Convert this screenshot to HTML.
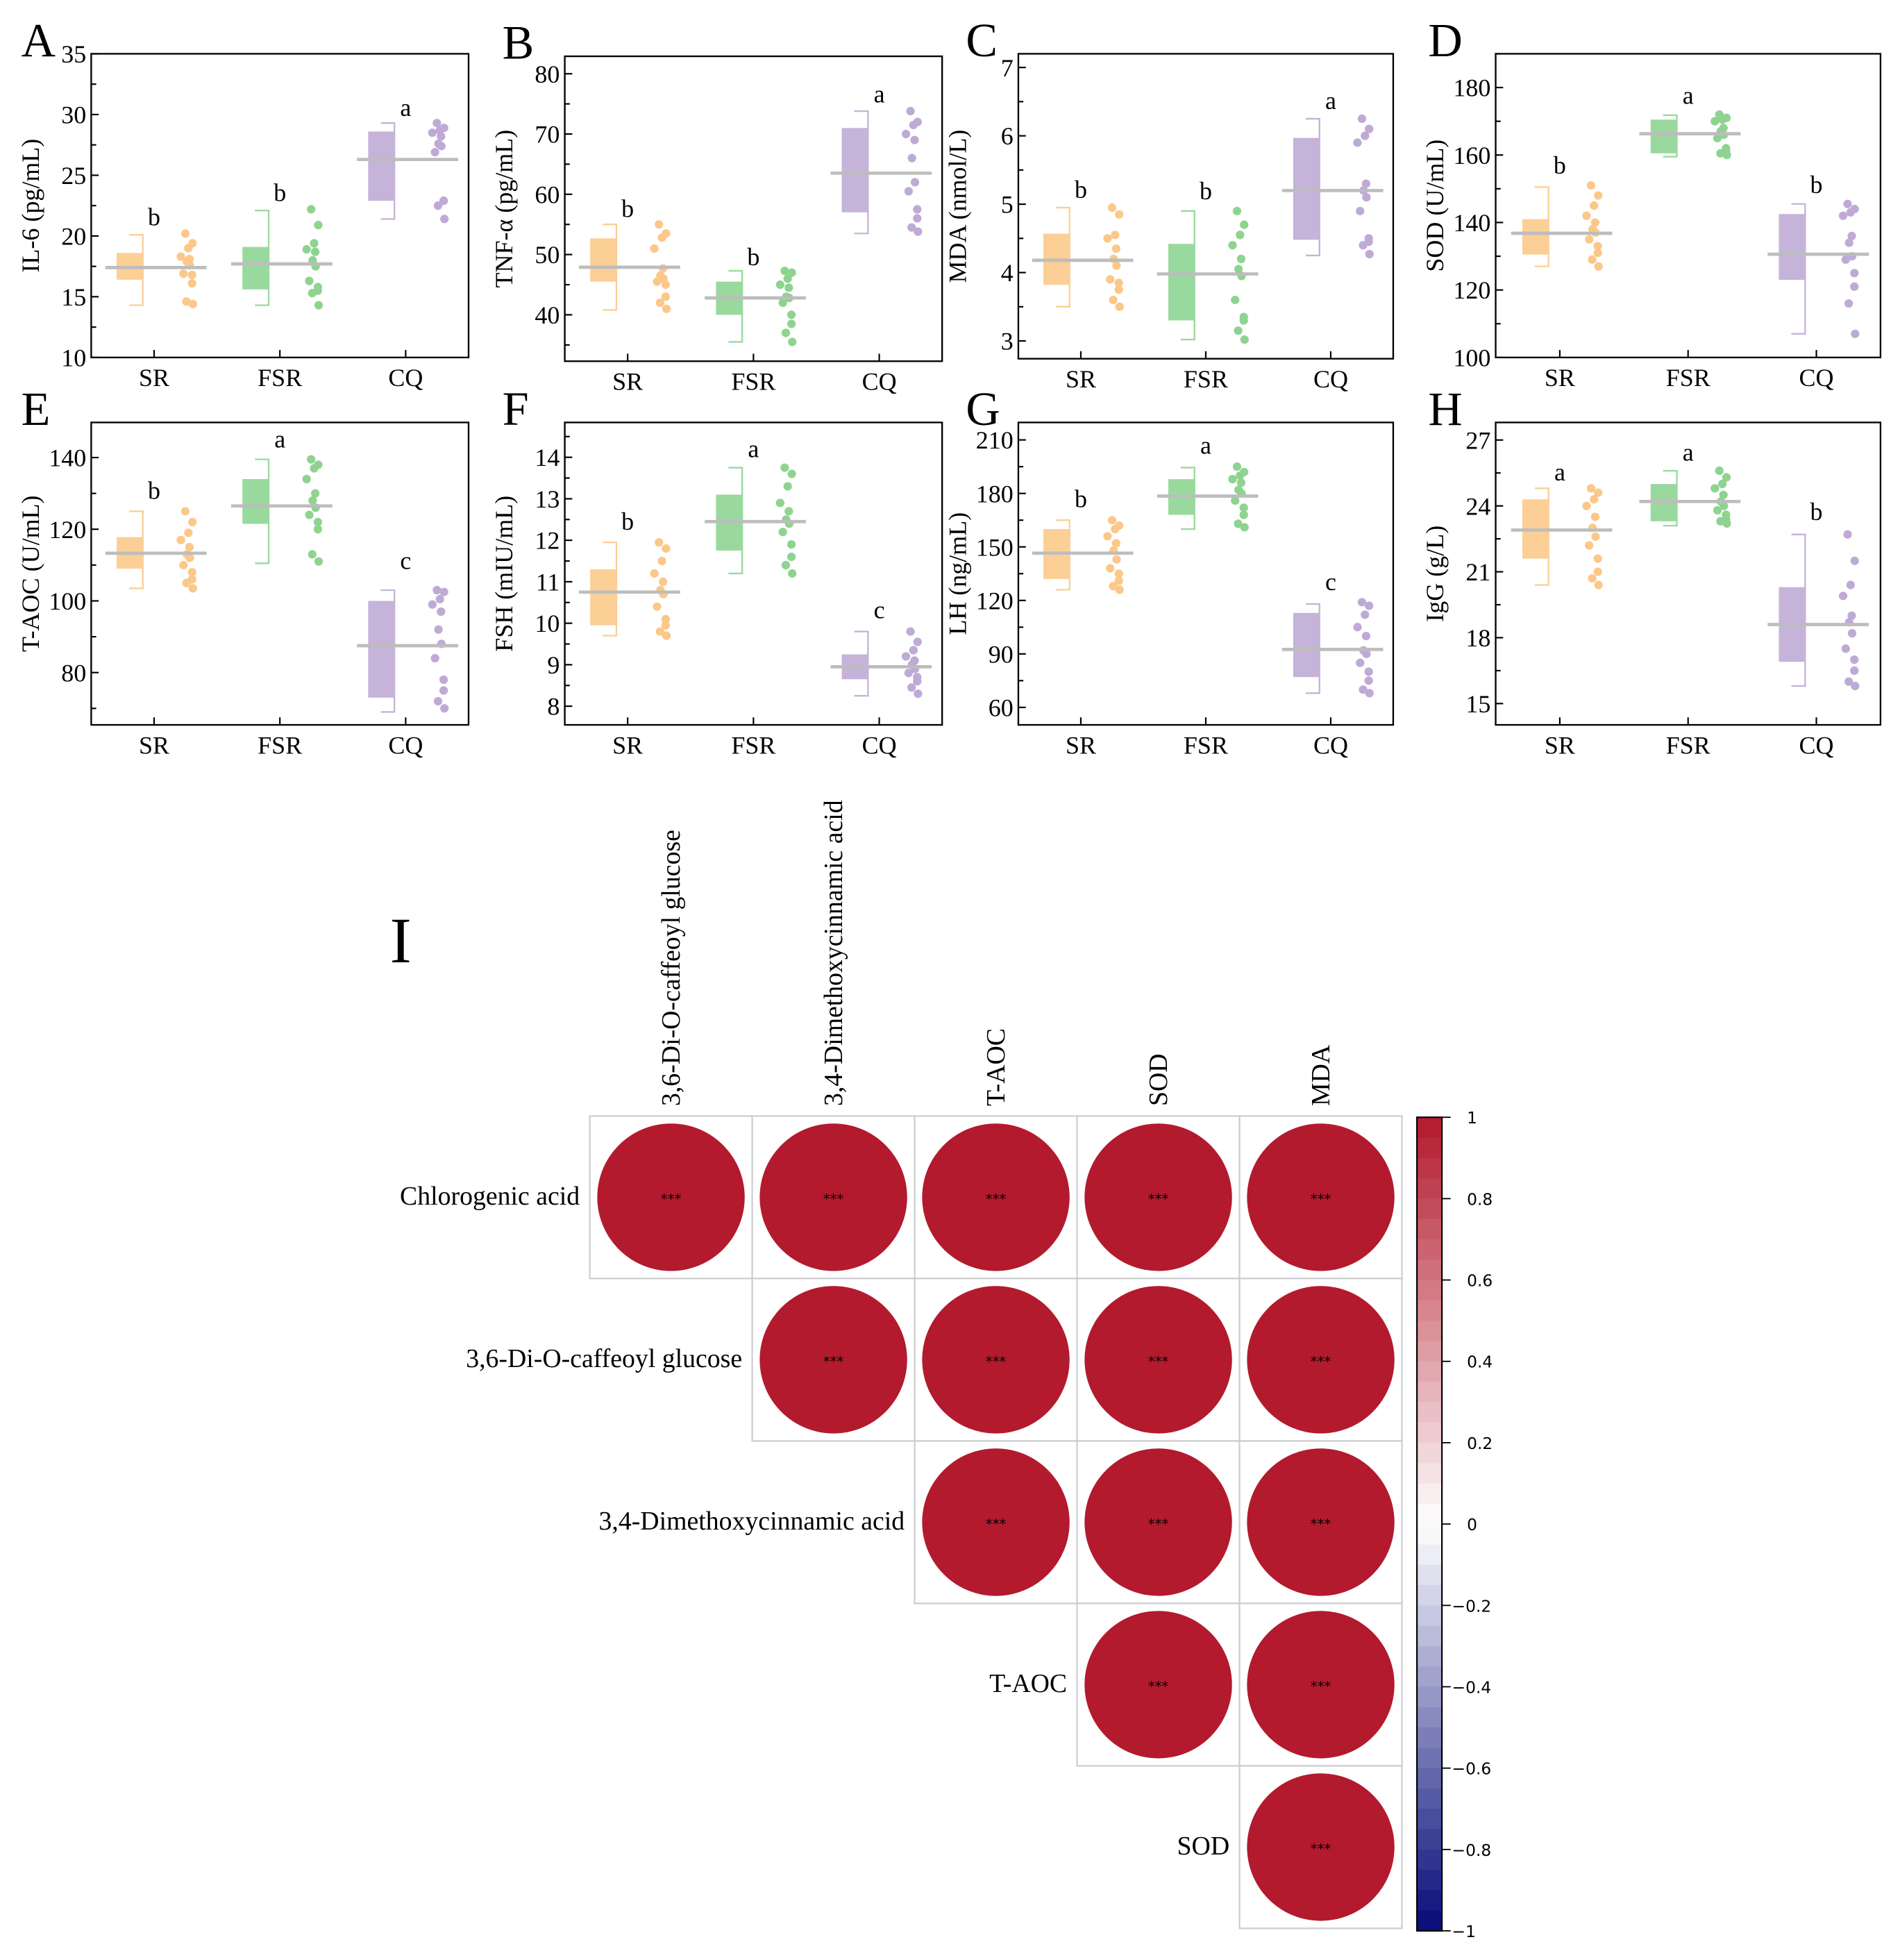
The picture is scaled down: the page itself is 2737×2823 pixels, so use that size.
<!DOCTYPE html>
<html><head><meta charset="utf-8"><style>
html,body{margin:0;padding:0;background:#fff;}
svg{display:block;}
text{font-family:"Liberation Serif",serif;fill:#000;}
.cb{font-family:"DejaVu Sans","Liberation Sans",sans-serif;}
</style></head>
<body>
<svg id="fig" xmlns="http://www.w3.org/2000/svg" width="2737" height="2823" viewBox="0 0 1520.6 1568.3">
<rect width="1520.6" height="1568.3" fill="#fff"/>
<g id="panels"></g>
<g id="corr"></g>
</svg>
<script>
const groups = ['SR','FSR','CQ'];
// Panel A IL-6
const il6Mean = [17.4, 17.7, 26.3];
const il6Box = [[16.4,18.6],[15.6,19.1],[22.9,28.6]];
const il6Whisk = [[14.3,20.1],[14.3,22.1],[21.4,29.3]];
const il6Dots = [[20.2,19.4,19.0,18.3,18.1,17.9,17.6,16.9,16.8,16.1,14.6,14.4],[22.2,20.9,19.4,18.9,18.7,18.0,17.5,16.3,15.8,15.5,15.3,14.3],[29.3,28.9,28.7,28.5,28.2,27.6,27.4,26.9,22.9,22.9,22.5,21.4]];
const il6Letters = ['b','b','a'];
const il6LetterY = [21.5, 23.5, 30.5];
const il6Ticks = [10,15,20,25,30,35];
// Panel B TNF
const tnfMean = [47.9, 42.8, 63.5];
const tnfBox = [[45.5,52.7],[40,45.5],[57,71]];
const tnfWhisk = [[40.8,55],[35.5,47.3],[53.5,73.8]];
const tnfDots = [[55,53.5,52.8,51,47.7,46.5,46,45.5,45,43,42,41],[47.3,47,46,45,44.5,43,42.8,42,40,38.5,37,35.5],[73.8,72,71.5,70,69,66,62,60.5,57.5,56,54.5,53.8]];
const tnfLetters = ['b','b','a'];
const tnfLetterY = [57.5, 49.5, 76.5];
const tnfTicks = [40,50,60,70,80];
// Panel C MDA
const mdaMean = [4.18, 3.98, 5.2];
const mdaBox = [[3.82,4.57],[3.3,4.42],[4.48,5.97]];
const mdaWhisk = [[3.5,4.95],[3.02,4.9],[4.25,6.25]];
const mdaDots = [[4.95,4.85,4.55,4.5,4.35,4.2,4.1,3.9,3.85,3.75,3.6,3.5],[4.9,4.7,4.55,4.4,4.2,4.05,3.95,3.6,3.35,3.3,3.15,3.02],[6.25,6.1,6.0,5.9,5.3,5.2,5.1,4.9,4.5,4.45,4.4,4.27]];
const mdaLetters = ['b','b','a'];
const mdaLetterY = [5.2, 5.18, 6.5];
const mdaTicks = [3,4,5,6,7];
// Panel D SOD
const sodMean = [136.8, 166.3, 130.6];
const sodBox = [[130.5,141],[160.5,170.5],[123,142.5]];
const sodWhisk = [[127,150.5],[159.5,171.8],[107,145.5]];
const sodDots = [[151,148,145,142,140,138,137,135,133,131,129,127],[172,171,170.5,170,168,167,166,165,162,161,160.5,160],[145.5,144,143,142,136,134,130,129,125,121,116,107]];
const sodLetters = ['b','a','b'];
const sodLetterY = [156.7, 177.4, 151];
const sodTicks = [100,120,140,160,180];
// Panel E T-AOC
const taocMean = [113.3, 126.5, 87.5];
const taocBox = [[109,117.8],[121.5,134],[73,100]];
const taocWhisk = [[103.5,125],[110.5,139.5],[69,103]];
const taocDots = [[125,122,119,117,115,113,112,110,108,106,105,103.5],[139.5,138,137,134,130,128,126,124,122,120,113,111],[103,102.5,100.5,99,97,92,88,84,78,75,72,70]];
const taocLetters = ['b','a','c'];
const taocLetterY = [130.6, 144.9, 111];
const taocTicks = [80,100,120,140];
// Panel F FSH
const fshMean = [10.75, 12.45, 8.95];
const fshBox = [[9.95,11.3],[11.75,13.1],[8.65,9.25]];
const fshWhisk = [[9.7,11.95],[11.2,13.75],[8.25,9.8]];
const fshDots = [[11.95,11.8,11.5,11.2,11,10.8,10.7,10.4,10.1,9.95,9.8,9.7],[13.75,13.6,13.3,12.9,12.7,12.5,12.4,12.2,11.9,11.6,11.4,11.2],[9.8,9.55,9.35,9.2,9.1,9.0,8.9,8.8,8.7,8.6,8.45,8.3]];
const fshLetters = ['b','a','c'];
const fshLetterY = [12.43, 14.18, 10.3];
const fshTicks = [8,9,10,11,12,13,14];
// Panel G LH
const lhMean = [146.5, 178.5, 92.5];
const lhBox = [[132,160],[168,188],[77,113]];
const lhWhisk = [[126,165],[160,194.5],[68,118]];
const lhDots = [[165,162,160,156,152,148,143,138,135,131,128,126],[195,192,190,188,186,182,180,176,172,168,163,161],[119,117,112,105,100,92,90,85,80,75,70,68]];
const lhLetters = ['b','a','c'];
const lhLetterY = [176.4, 206.5, 130];
const lhTicks = [60,90,120,150,180,210];
// Panel H IgG
const iggMean = [22.9, 24.2, 18.6];
const iggBox = [[21.6,24.3],[23.3,25],[16.9,20.3]];
const iggWhisk = [[20.4,24.8],[23.1,25.6],[15.8,22.7]];
const iggDots = [[24.8,24.6,24.3,24,23.5,23,22.6,22.2,21.6,21,20.7,20.4],[25.6,25.3,25,24.8,24.5,24.2,24,23.8,23.6,23.4,23.3,23.2],[22.7,21.5,20.4,19.9,19,18.7,18.2,17.5,17,16.5,16,15.8]];
const iggLetters = ['a','a','b'];
const iggLetterY = [25.5, 26.4, 23.7];
const iggTicks = [15,18,21,24,27];
// Correlation panel I
const corrRows = ['Chlorogenic acid','3,6-Di-O-caffeoyl glucose','3,4-Dimethoxycinnamic acid','T-AOC','SOD'];
const corrCols = ['3,6-Di-O-caffeoyl glucose','3,4-Dimethoxycinnamic acid','T-AOC','SOD','MDA'];
const corrValues = [[0.99,0.99,0.99,0.99,0.99],[null,0.99,0.99,0.99,0.99],[null,null,0.99,0.99,0.99],[null,null,null,0.99,0.99],[null,null,null,null,0.99]];
const corrSig = [['***','***','***','***','***'],[null,'***','***','***','***'],[null,null,'***','***','***'],[null,null,null,'***','***'],[null,null,null,null,'***']];
const cbTicks = [1,0.8,0.6,0.4,0.2,0,-0.2,-0.4,-0.6,-0.8,-1];

const NS='http://www.w3.org/2000/svg';
function mk(tag, attrs, parent){const e=document.createElementNS(NS,tag);for(const k in attrs)e.setAttribute(k,attrs[k]);parent.appendChild(e);return e;}
const fills=['#fbcf96','#9ad99e','#c5b3d9'];
const dotFills=['#fbc88a','#8fd391','#bfaad6'];
const jitter=[20,27,19,14,23,17,26,15,24,29,19,25];

const panels=[
 {L:'A',title:'IL-6 (pg/mL)',x:73,y:43,w:302,h:243,min:10,max:35,ticks:il6Ticks,minor:2.5,mean:il6Mean,box:il6Box,wh:il6Whisk,dots:il6Dots,let:il6Letters,ly:il6LetterY,lx:17,lyy:45},
 {L:'B',title:'TNF-α (pg/mL)',x:452,y:45,w:302,h:244,min:32.3,max:82.9,ticks:tnfTicks,minor:5,mean:tnfMean,box:tnfBox,wh:tnfWhisk,dots:tnfDots,let:tnfLetters,ly:tnfLetterY,lx:402,lyy:47},
 {L:'C',title:'MDA (nmol/L)',x:815,y:43,w:300,h:244,min:2.74,max:7.2,ticks:mdaTicks,minor:0.5,mean:mdaMean,box:mdaBox,wh:mdaWhisk,dots:mdaDots,let:mdaLetters,ly:mdaLetterY,lx:773,lyy:45},
 {L:'D',title:'SOD (U/mL)',x:1197,y:43,w:308,h:243,min:100,max:190,ticks:sodTicks,minor:10,mean:sodMean,box:sodBox,wh:sodWhisk,dots:sodDots,let:sodLetters,ly:sodLetterY,lx:1143,lyy:45},
 {L:'E',title:'T-AOC (U/mL)',x:73,y:338,w:302,h:242,min:65.4,max:149.8,ticks:taocTicks,minor:10,mean:taocMean,box:taocBox,wh:taocWhisk,dots:taocDots,let:taocLetters,ly:taocLetterY,lx:17,lyy:340},
 {L:'F',title:'FSH (mIU/mL)',x:452,y:338,w:302,h:242,min:7.55,max:14.84,ticks:fshTicks,minor:0.5,mean:fshMean,box:fshBox,wh:fshWhisk,dots:fshDots,let:fshLetters,ly:fshLetterY,lx:402,lyy:340},
 {L:'G',title:'LH (ng/mL)',x:815,y:338,w:300,h:242,min:50.2,max:219.8,ticks:lhTicks,minor:15,mean:lhMean,box:lhBox,wh:lhWhisk,dots:lhDots,let:lhLetters,ly:lhLetterY,lx:773,lyy:340},
 {L:'H',title:'IgG (g/L)',x:1197,y:338,w:308,h:242,min:14.03,max:27.8,ticks:iggTicks,minor:1.5,mean:iggMean,box:iggBox,wh:iggWhisk,dots:iggDots,let:iggLetters,ly:iggLetterY,lx:1143,lyy:340}
];
const root=document.getElementById('panels');
panels.forEach(p=>{
  const g=mk('g',{},root);
  
  
  const Y=v=>p.y+p.h-(v-p.min)/(p.max-p.min)*p.h;
  const X=i=>p.x+p.w*(2*i+1)/6;
  const lt=mk('text',{x:p.lx,y:p.lyy,'font-size':38},g);lt.textContent=p.L;
  
  
  const t0=p.ticks[0];
  for(let v=t0-p.minor*20;v<=p.max;v+=p.minor){
    if(v<p.min-1e-9)continue;
    const isMajor=p.ticks.some(t=>Math.abs(t-v)<1e-6);
    const yy=Y(v);
    mk('line',{x1:p.x,x2:p.x+(isMajor?6:4),y1:yy,y2:yy,stroke:'#000','stroke-width':1.2},g);
    if(isMajor){
      const tx=mk('text',{x:p.x-4,y:yy+7,'font-size':20,'text-anchor':'end'},g);tx.textContent=String(v);
      
      
    }
  }
  const yt=mk('text',{x:0,y:0,'font-size':20,'text-anchor':'middle',transform:`translate(${p.x-42},${p.y+p.h/2}) rotate(-90)`},g);
  yt.textContent=p.title;
  
  
  groups.forEach((gname,i)=>{
    const c=X(i);
    mk('line',{x1:c,x2:c,y1:p.y+p.h,y2:p.y+p.h-6,stroke:'#000','stroke-width':1.2},g);
    const xl=mk('text',{x:c,y:p.y+p.h+23,'font-size':20,'text-anchor':'middle'},g);xl.textContent=gname;
    
    
    const b=mk('rect',{x:c-30,y:Y(p.box[i][1]),width:21,height:Y(p.box[i][0])-Y(p.box[i][1]),fill:fills[i]},g);
    
    
    const wp=mk('path',{d:`M${c-20},${Y(p.wh[i][1])}H${c-9}V${Y(p.wh[i][0])}H${c-20}`,fill:'none',stroke:fills[i],'stroke-width':1.3},g);
    
    
    p.dots[i].forEach((v,k)=>{
      const d=mk('circle',{cx:c+13+jitter[k]*0.6+(k%3)*1.5,cy:Y(v),r:3.4,fill:dotFills[i]},g);
      
      
    });
    const m=mk('line',{x1:c-39,x2:c+42,y1:Y(p.mean[i]),y2:Y(p.mean[i]),stroke:'#bdbdbd','stroke-width':2.6},g);
    
    
    const lt2=mk('text',{x:c,y:Y(p.ly[i])+6,'font-size':20,'text-anchor':'middle'},g);lt2.textContent=p.let[i];
    
    
  });
  const fr=mk('rect',{x:p.x,y:p.y,width:p.w,height:p.h,fill:'none',stroke:'#000','stroke-width':1.3},g);
  
  
});

// correlation plot
const cg=document.getElementById('corr');
const cx0=472, cy0=893, cs=130;
const il=mk('text',{x:312,y:770,'font-size':52},cg);il.textContent='I';


function corrColor(v){
  const t=Math.abs(v);
  const pos=[178,24,43], neg=[5,10,120];
  const base=v>=0?pos:neg;
  const r=Math.round(255+(base[0]-255)*t),gg=Math.round(255+(base[1]-255)*t),b=Math.round(255+(base[2]-255)*t);
  return `rgb(${r},${gg},${b})`;
}
corrCols.forEach((name,j)=>{
  const x=cx0+cs*j+cs/2+7;
  const t=mk('text',{x:0,y:0,'font-size':21,'text-anchor':'start',transform:`translate(${x},${cy0-8}) rotate(-90)`},cg);
  t.textContent=name;
  
  
});
corrRows.forEach((name,i)=>{
  const t=mk('text',{x:cx0+cs*i-8,y:cy0+cs*i+cs/2+6,'font-size':21,'text-anchor':'end'},cg);
  t.textContent=name;
  
  
  corrValues[i].forEach((v,j)=>{
    if(v===null)return;
    const x=cx0+cs*j, y=cy0+cs*i;
    const cell=mk('rect',{x:x,y:y,width:cs,height:cs,fill:'#fff',stroke:'#cccccc','stroke-width':1.2},cg);
    
    
    const c=mk('circle',{cx:x+cs/2,cy:y+cs/2,r:59*Math.abs(v)/0.99,fill:corrColor(v)},cg);
    
    
    const s=mk('text',{x:x+cs/2,y:y+cs/2+5,'font-size':11,'text-anchor':'middle',class:'cb'},cg);
    s.textContent=corrSig[i][j];
    
    
  });
});
// colorbar
const bx=1134,bw=20,by0=894,by1=1545;
const CBY=v=>by0+(1-v)/2*(by1-by0);
for(let k=0;k<40;k++){
  const v1=1-k*0.05, v2=v1-0.05;
  const r=mk('rect',{x:bx,y:CBY(v1),width:bw,height:CBY(v2)-CBY(v1)+0.6,fill:corrColor(v1-0.025)},cg);
  
  
}
const cbf=mk('rect',{x:bx,y:by0,width:bw,height:by1-by0,fill:'none',stroke:'#000','stroke-width':1.2},cg);


cbTicks.forEach(v=>{
  const y=CBY(v);
  mk('line',{x1:bx+bw,x2:bx+bw+7,y1:y,y2:y,stroke:'#000','stroke-width':1},cg);
  const t=mk('text',{x:bx+bw+8,y:y+5,'font-size':13,class:'cb'},cg);
  t.textContent=(v<0?'\u2212':'')+String(Math.abs(v));
  if(v>=0)t.setAttribute('x',bx+bw+20);
  
  
});
</script>
</body></html>
